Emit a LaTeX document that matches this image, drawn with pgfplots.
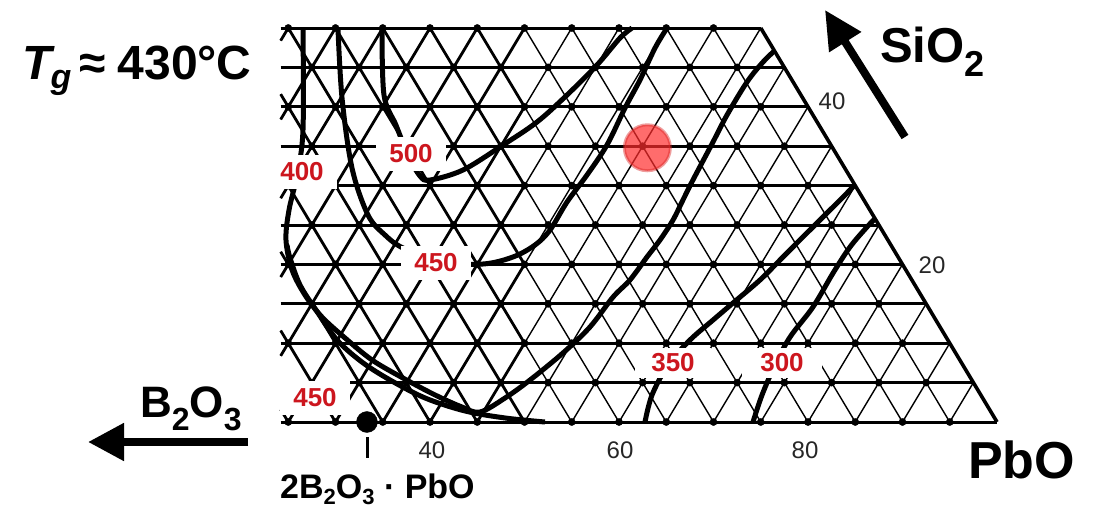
\documentclass[border=0pt]{standalone}
\usepackage{pgfplots}
\pgfplotsset{compat=1.18}
\usepackage{fontspec}
\setmainfont{Liberation Sans}
\usetikzlibrary{arrows.meta}

\definecolor{tgred}{RGB}{204,22,30}
\definecolor{spot}{RGB}{255,45,45}

\tikzset{
  hline/.style={black, line width=3pt},
  thin tri/.style={black, line width=1.4pt},
  thick tri/.style={black, line width=2.8pt},
  rim/.style={black, line width=3.6pt},
  isotherm/.style={black, line width=5pt, smooth, tension=0.55},
  tlabel/.style={fill=white, text=tgred, inner xsep=13pt, inner ysep=8pt,
                 font=\fontsize{26}{26}\selectfont\bfseries},
}

\begin{document}
\begin{tikzpicture}
% composition axes: x = PbO (mol%), y = SiO2 (mol%), skewed 60-degree lattice
\begin{axis}[
  x={(9.45pt,0pt)}, y={(4.725pt,7.88pt)},
  xmin=0, xmax=100, ymin=0, ymax=50,
  hide axis, clip=false,
]
% lines of constant SiO2
\pgfplotsinvokeforeach{0,5,...,50}{
  \pgfmathsetmacro\gA{24.2-0.5*#1}
  \pgfmathsetmacro\gB{100-#1}
  \edef\seg{\noexpand\addplot[hline] coordinates {(\gA,#1) (\gB,#1)};}\seg
}
% lines of constant PbO
\pgfplotsinvokeforeach{0,5,...,95}{
  \pgfmathsetmacro\gA{max(0,2*(24.2-#1))}
  \pgfmathsetmacro\gB{min(50,100-#1)}
  \pgfmathsetmacro\gC{max(\gA,min(\gB,2*(50-#1)))}
  \edef\seg{\noexpand\addplot[thin tri] coordinates {(#1,\gA) (#1,\gB)};
            \noexpand\addplot[thick tri] coordinates {(#1,\gA) (#1,\gC)};}\seg
}
% lines of constant B2O3
\pgfplotsinvokeforeach{5,10,...,75}{
  \pgfmathsetmacro\gE{min(50,2*(75.8-#1))}
  \pgfmathsetmacro\gA{100-#1}
  \pgfmathsetmacro\gB{100-#1-\gE}
  \pgfmathsetmacro\gS{min(\gE,max(0,100-2*#1))}
  \pgfmathsetmacro\gT{100-#1-\gS}
  \edef\seg{\noexpand\addplot[thin tri] coordinates {(\gA,0) (\gB,\gE)};
            \noexpand\addplot[thick tri] coordinates {(\gT,\gS) (\gB,\gE)};}\seg
}
% PbO--SiO2 side
\addplot[rim] coordinates {(100,0) (50,50)};

% measured glass compositions
\addplot[only marks, mark=*, mark size=3.6pt, black] coordinates {
 (25,0)(30,0)(35,0)(40,0)(45,0)(50,0)(55,0)(60,0)(65,0)(70,0)(75,0)(80,0)(85,0)(90,0)(95,0)
 (25,5)(30,5)(35,5)(40,5)(45,5)(50,5)(55,5)(60,5)(65,5)(70,5)(75,5)(80,5)(85,5)(90,5)
 (20,10)(25,10)(30,10)(35,10)(40,10)(45,10)(50,10)(55,10)(60,10)(65,10)(70,10)(75,10)(80,10)(85,10)
 (20,15)(25,15)(30,15)(35,15)(40,15)(45,15)(50,15)(55,15)(60,15)(65,15)(70,15)(75,15)(80,15)
 (15,20)(20,20)(25,20)(30,20)(35,20)(40,20)(45,20)(50,20)(55,20)(60,20)(65,20)(70,20)(75,20)
 (15,25)(20,25)(25,25)(30,25)(35,25)(40,25)(45,25)(50,25)(55,25)(60,25)(65,25)(70,25)
 (10,30)(15,30)(20,30)(25,30)(30,30)(35,30)(40,30)(45,30)(50,30)(55,30)(60,30)(65,30)
 (10,35)(15,35)(20,35)(25,35)(30,35)(35,35)(40,35)(45,35)(50,35)(55,35)(60,35)
 (5,40)(10,40)(15,40)(20,40)(25,40)(30,40)(35,40)(40,40)(45,40)(50,40)(55,40)
 (5,45)(10,45)(15,45)(20,45)(25,45)(30,45)(35,45)(40,45)(45,45)(50,45)
 (0,50)(5,50)(10,50)(15,50)(20,50)(25,50)(30,50)(35,50)(40,50)(45,50)
};

% Tg isotherms (degC)
% 500
\addplot[isotherm] coordinates {
 (9.92,50) (14.38,41.50) (17.55,37.69) (20.73,33.88) (23.33,31.22) (24.64,30.71)
 (27.50,31.98) (30.15,35.15) (32.29,38.07) (33.75,41.50) (35.02,45.30) (35.74,48.73) (36.38,50)};
% 450 (upper)
\addplot[isotherm] coordinates {
 (5.26,50) (10.13,41.12) (15.63,32.23) (20.30,26.27) (23.37,23.73) (26.10,22.08)
 (30.91,20.30) (35.58,20.05) (38.31,20.94) (39.88,22.46) (40.52,24.37) (40.54,27.92)
 (40.94,31.35) (41.15,35.15) (40.71,39.85) (40.52,43.40) (40.08,47.46) (40.08,50)};
% 400
\addplot[isotherm] coordinates {
 (1.56,50) (8.03,37.06) (10.26,31.35) (11.63,26.90) (13.21,23.10) (15.76,19.29)
 (18.71,16.12) (21.91,13.32) (25.68,10.66) (29.93,7.87) (34.35,5.58) (38.82,3.43)
 (42.44,1.90) (44.66,1.27) (46.42,3.05) (47.92,5.33) (49.69,8.76) (50.90,12.06)
 (51.44,15.86) (52.15,18.02) (52.49,20.94) (52.79,23.10) (52.90,25.63) (52.68,28.17)
 (52.47,30.71) (52.18,35.53) (51.95,38.96) (51.97,43.15) (52.40,45.69) (52.9,47.1)};
% 450 (lower)
\addplot[isotherm] coordinates {
 (13.64,22.46) (14.78,20.81) (17.55,17.39) (20.83,14.21) (24.96,10.41) (28.99,7.61)
 (33.11,5.33) (37.95,3.05) (43.00,1.40) (47.69,0.51) (52.17,0)};
% 350
\addplot[isotherm] coordinates {
 (62.75,0) (61.78,3.43) (61.57,7.23) (62.31,10.41) (63.48,12.94) (64.51,15.10)
 (65.91,18.02) (66.76,20.56) (67.60,23.10) (68.58,26.02) (69.60,29.06) (69.9,30.1)};
% 300
\addplot[isotherm] coordinates {
 (74.18,0) (73.42,3.43) (72.89,7.23) (72.71,10.79) (73.23,14.59) (73.20,18.91)
 (73.34,22.21) (73.87,24.75) (74.2,25.8)};

% 2B2O3.PbO composition on the B2O3--PbO side
\addplot[only marks, mark=*, mark size=10.5pt, black] coordinates {(33.33,0)};
% selected glass
\addplot[only marks, mark=*, mark size=23pt,
  mark options={fill=spot, fill opacity=0.7, draw=spot!85!black, draw opacity=0.45, line width=3pt}]
  coordinates {(45.6,34.8)};

\coordinate (O) at (axis cs:0,0);
\end{axis}

% annotations in page units (origin top-left, y downwards)
\begin{scope}[shift={(O)}]
\begin{scope}[x=1pt, y=-1pt, shift={(-52,-422)}]
  \node[tlabel] at (411,154) {500};
  \node[tlabel] at (302,172) {400};
  \node[tlabel] at (436,263) {450};
  \node[tlabel] at (315,398) {450};
  \node[tlabel, inner xsep=16pt, inner ysep=6pt] at (673,363) {350};
  \node[tlabel, inner xsep=18pt, inner ysep=6pt] at (782,363) {300};

  % scale numbers
  \begin{scope}[every node/.style={font=\fontsize{24}{24}\selectfont, text=black!85, inner sep=0pt}]
    \node at (432,450) {40};
    \node at (620,450) {60};
    \node at (805,450) {80};
    \node at (832,101) {40};
    \node at (932,265) {20};
  \end{scope}
  \draw[line width=3pt] (367,437) -- (367,458);

  % titles
  \node[anchor=base west, inner sep=0pt] at (22,80)
    {\fontsize{48}{50}\selectfont\bfseries\itshape T\kern-1pt\raisebox{-9pt}{\fontsize{34}{34}\selectfont g}\upshape\kern8pt≈\kern12pt430°C};
  \node[anchor=base west, inner sep=0pt] at (880,63)
    {\fontsize{49}{50}\selectfont\bfseries SiO\raisebox{-14pt}{\fontsize{36}{36}\selectfont 2}};
  \node[anchor=base west, inner sep=0pt] at (140,417)
    {\fontsize{44}{44}\selectfont\bfseries B\raisebox{-13pt}{\fontsize{32}{32}\selectfont 2}O\raisebox{-13pt}{\fontsize{32}{32}\selectfont 3}};
  \node[anchor=base west, inner sep=0pt] at (968,478)
    {\fontsize{52}{52}\selectfont\bfseries PbO};
  \node[anchor=base west, inner sep=0pt] at (280,498)
    {\fontsize{34}{34}\selectfont\bfseries 2B\raisebox{-6pt}{\fontsize{22}{22}\selectfont 2}O\raisebox{-6pt}{\fontsize{22}{22}\selectfont 3} · PbO};

  % direction arrows
  \draw[line width=8pt, -{Triangle[length=38pt, width=36pt]}] (905,137) -- (825,10);
  \draw[line width=8pt, -{Triangle[length=36pt, width=36pt]}] (248,442) -- (88,442);

  \pgfresetboundingbox
  \path[use as bounding box] (0,0) rectangle (1096,507);
\end{scope}
\end{scope}
\end{tikzpicture}
\end{document}
